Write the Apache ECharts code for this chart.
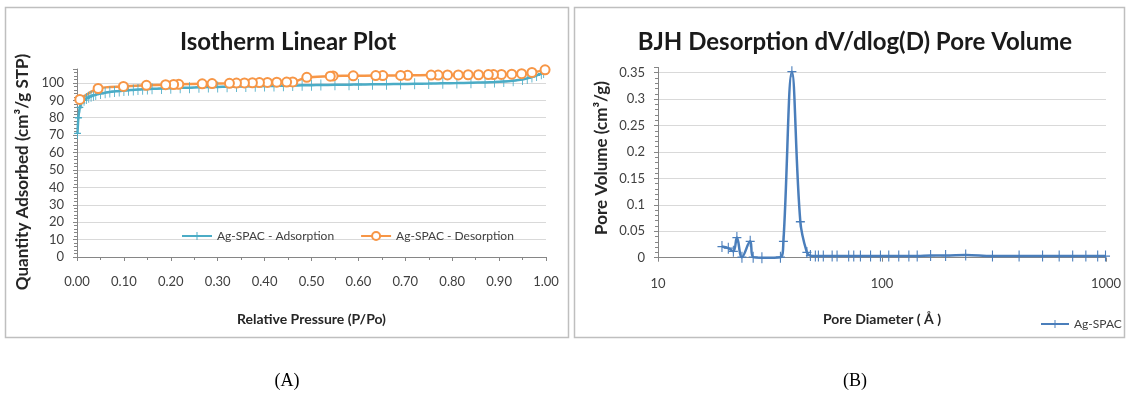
<!DOCTYPE html>
<html>
<head>
<meta charset="utf-8">
<script src="https://cdn.jsdelivr.net/npm/echarts@6/dist/echarts.min.js"></script>
<style>
html,body{margin:0;padding:0;background:#fff;}
#c{width:1129px;height:394px;}
</style>
</head>
<body>
<div id="c"></div>
<script>
// ---- Chart A: isotherm (relative pressure vs quantity adsorbed) ----
const adsP = [0.001,0.003,0.006,0.01,0.015,0.02,0.025,0.03,0.035,0.04,0.05,0.06,0.07,0.08,0.09,0.10,0.11,0.12,0.13,0.14,0.15,0.16,0.18,0.20,0.22,0.24,0.26,0.28,0.30,0.32,0.34,0.36,0.38,0.40,0.42,0.44,0.46,0.48,0.50,0.52,0.55,0.58,0.60,0.63,0.66,0.69,0.72,0.75,0.78,0.81,0.84,0.87,0.89,0.91,0.93,0.95,0.96,0.97,0.98,0.99,0.995];
const adsQ = [71,80,86,88.5,90,91,91.8,92.4,92.9,93.3,93.9,94.4,94.8,95.1,95.4,95.6,95.8,96.0,96.2,96.3,96.5,96.6,96.8,97.0,97.2,97.3,97.5,97.6,97.7,97.8,97.9,98.0,98.1,98.2,98.3,98.4,98.5,98.6,98.7,98.8,98.9,99.0,99.1,99.2,99.3,99.4,99.5,99.6,99.8,99.9,100.1,100.3,100.5,100.8,101.3,102.0,102.6,103.4,104.3,105.3,106.0];
const desP = [0.998,0.97,0.948,0.927,0.905,0.888,0.877,0.856,0.834,0.813,0.79,0.77,0.755,0.705,0.69,0.652,0.637,0.589,0.546,0.54,0.49,0.46,0.447,0.426,0.406,0.389,0.374,0.357,0.34,0.325,0.288,0.267,0.217,0.206,0.189,0.148,0.099,0.045,0.006];
const desQ = [107.5,106.0,105.3,105.0,104.9,104.8,104.8,104.7,104.7,104.6,104.6,104.5,104.5,104.4,104.3,104.2,104.2,104.1,104.0,103.9,103.2,100.6,100.5,100.4,100.3,100.2,100.1,100.0,99.9,99.8,99.6,99.5,99.2,99.1,99.0,98.6,98.0,96.8,90.5];
const seriesNamesA = ['Ag-SPAC - Adsorption','Ag-SPAC - Desorption'];

// ---- Chart B: BJH desorption pore volume ----
const poreD = [19.3,20.6,21.7,22.5,23.7,25.8,26.6,29.1,35.2,36.3,39.6,43.2,46.2,47.9,50.4,52.0,54.7,59.9,63.0,71.0,74.8,80.1,88.9,98.4,107.2,118.8,131.8,143.6,164.8,192.3,236.4,311.3,409.3,521,618,710,813,918,995];
const poreV = [0.021,0.018,0.012,0.038,0.001,0.031,0.001,0.0,0.001,0.031,0.352,0.068,0.010,0.004,0.003,0.003,0.003,0.003,0.003,0.003,0.003,0.003,0.003,0.003,0.003,0.003,0.003,0.003,0.004,0.004,0.005,0.003,0.003,0.003,0.003,0.003,0.003,0.003,0.003];
const seriesNameB = 'Ag-SPAC';

const FONT = 'Lato';
const TXT = '#404040';
const AXIS = '#868686';
const GRIDC = '#d9d9d9';
const PLUS = 'path://M4.4,0H5.6V4.4H10V5.6H5.6V10H4.4V5.6H0V4.4H4.4Z';

const zip = (a, b) => a.map((v, i) => [v, b[i]]);

const chart = echarts.init(document.getElementById('c'), null, {renderer: 'canvas'});

const baseLabel = {color: TXT, fontFamily: FONT, fontSize: 13};
const nameStyle = {fontFamily: FONT, fontSize: 14, fontWeight: 'bold', color: '#262626'};

chart.setOption({
  animation: false,
  backgroundColor: '#fff',
  grid: [
    {left: 77, top: 69, width: 469, height: 188, containLabel: false},
    {left: 658, top: 67.4, width: 448, height: 190.3, containLabel: false}
  ],
  xAxis: [
    {
      type: 'value', gridIndex: 0, min: 0, max: 1, interval: 0.1,
      axisLine: {lineStyle: {color: AXIS, width: 1}},
      axisTick: {show: true, length: 4, lineStyle: {color: AXIS}},
      minorTick: {show: true, splitNumber: 2, length: 3, lineStyle: {color: AXIS}},
      splitLine: {show: false},
      axisLabel: Object.assign({margin: 18, formatter: v => v.toFixed(2)}, baseLabel),
      name: 'Relative Pressure (P/Po)', nameLocation: 'middle', nameGap: 55,
      nameTextStyle: nameStyle
    },
    {
      type: 'log', logBase: 10, gridIndex: 1, min: 10, max: 1000,
      axisLine: {lineStyle: {color: AXIS, width: 1}},
      axisTick: {show: true, length: 4, lineStyle: {color: AXIS}},
      splitLine: {show: false},
      axisLabel: Object.assign({margin: 20, formatter: v => String(Math.round(v))}, baseLabel),
      name: 'Pore Diameter ( Å )', nameLocation: 'middle', nameGap: 55,
      nameTextStyle: nameStyle
    }
  ],
  yAxis: [
    {
      type: 'value', gridIndex: 0, min: 0, max: 108, interval: 10,
      axisLine: {show: true, lineStyle: {color: AXIS, width: 1}},
      axisTick: {show: true, length: 4, lineStyle: {color: AXIS}},
      minorTick: {show: true, splitNumber: 5, length: 3, lineStyle: {color: AXIS}},
      splitLine: {show: true, showMaxLine: false, lineStyle: {color: GRIDC, width: 1}},
      axisLabel: Object.assign({margin: 13, showMaxLabel: false}, baseLabel)
    },
    {
      type: 'value', gridIndex: 1, min: 0, max: 0.36, interval: 0.05,
      axisLine: {show: true, lineStyle: {color: AXIS, width: 1}},
      axisTick: {show: true, length: 4, lineStyle: {color: AXIS}},
      minorTick: {show: true, splitNumber: 5, length: 3, lineStyle: {color: AXIS}},
      splitLine: {show: true, showMaxLine: false, lineStyle: {color: GRIDC, width: 1}},
      axisLabel: Object.assign({margin: 13, showMaxLabel: false,
        formatter: v => String(Math.round(v * 100) / 100)}, baseLabel)
    }
  ],
  legend: [
    {
      data: seriesNamesA, left: 176, top: 225, itemWidth: 30, itemHeight: 10, itemGap: 26,
      textStyle: {fontFamily: FONT, fontSize: 12, color: TXT}
    },
    {
      data: [seriesNameB], left: 1035, top: 313, itemWidth: 28, itemHeight: 10,
      textStyle: {fontFamily: FONT, fontSize: 12, color: TXT}
    }
  ],
  series: [
    {
      name: seriesNamesA[0], type: 'line', xAxisIndex: 0, yAxisIndex: 0,
      data: zip(adsP, adsQ), smooth: 0.3,
      symbol: PLUS, symbolSize: [7, 11], symbolKeepAspect: false,
      itemStyle: {color: '#4BACC6', borderWidth: 0},
      lineStyle: {color: '#4BACC6', width: 2.5}
    },
    {
      name: seriesNamesA[1], type: 'line', xAxisIndex: 0, yAxisIndex: 0,
      data: zip(desP, desQ), smooth: 0.3,
      symbol: 'emptyCircle', symbolSize: 9,
      itemStyle: {color: '#F79646', borderColor: '#F79646', borderWidth: 1.3},
      lineStyle: {color: '#F79646', width: 2.5}
    },
    {
      name: seriesNameB, type: 'line', xAxisIndex: 1, yAxisIndex: 1,
      data: zip(poreD, poreV), smooth: 0.4,
      symbol: PLUS, symbolSize: [9, 11], symbolKeepAspect: false,
      itemStyle: {color: '#4A7EBB', borderWidth: 0},
      lineStyle: {color: '#4A7EBB', width: 2.5}
    }
  ],
  graphic: [
    {type: 'rect', z: -1, shape: {x: 5.5, y: 7.5, width: 563, height: 330},
      style: {fill: 'none', stroke: '#bfbfbf', lineWidth: 1.5}},
    {type: 'rect', z: -1, shape: {x: 574.5, y: 7.5, width: 550, height: 330},
      style: {fill: 'none', stroke: '#bfbfbf', lineWidth: 1.5}},
    {type: 'text', x: 288, y: 42, style: {text: 'Isotherm Linear Plot', font: 'bold 24px Lato',
      fill: '#1a1a1a', textAlign: 'center', textVerticalAlign: 'middle'}},
    {type: 'text', x: 855, y: 42, style: {text: 'BJH Desorption dV/dlog(D) Pore Volume', font: 'bold 24px Lato',
      fill: '#1a1a1a', textAlign: 'center', textVerticalAlign: 'middle'}},
    {type: 'text', x: 23, y: 172, rotation: Math.PI / 2,
      style: {text: 'Quantity Adsorbed (cm³/g STP)', font: 'bold 17px Lato',
      fill: '#262626', textAlign: 'center', textVerticalAlign: 'middle'}},
    {type: 'text', x: 602, y: 158, rotation: Math.PI / 2,
      style: {text: 'Pore Volume (cm³/g)', font: 'bold 17px Lato',
      fill: '#262626', textAlign: 'center', textVerticalAlign: 'middle'}},
    {type: 'text', x: 287, y: 381, style: {text: '(A)', font: '18px "Liberation Serif"',
      fill: '#000', textAlign: 'center', textVerticalAlign: 'middle'}},
    {type: 'text', x: 855, y: 381, style: {text: '(B)', font: '18px "Liberation Serif"',
      fill: '#000', textAlign: 'center', textVerticalAlign: 'middle'}}
  ]
});
</script>
</body>
</html>
